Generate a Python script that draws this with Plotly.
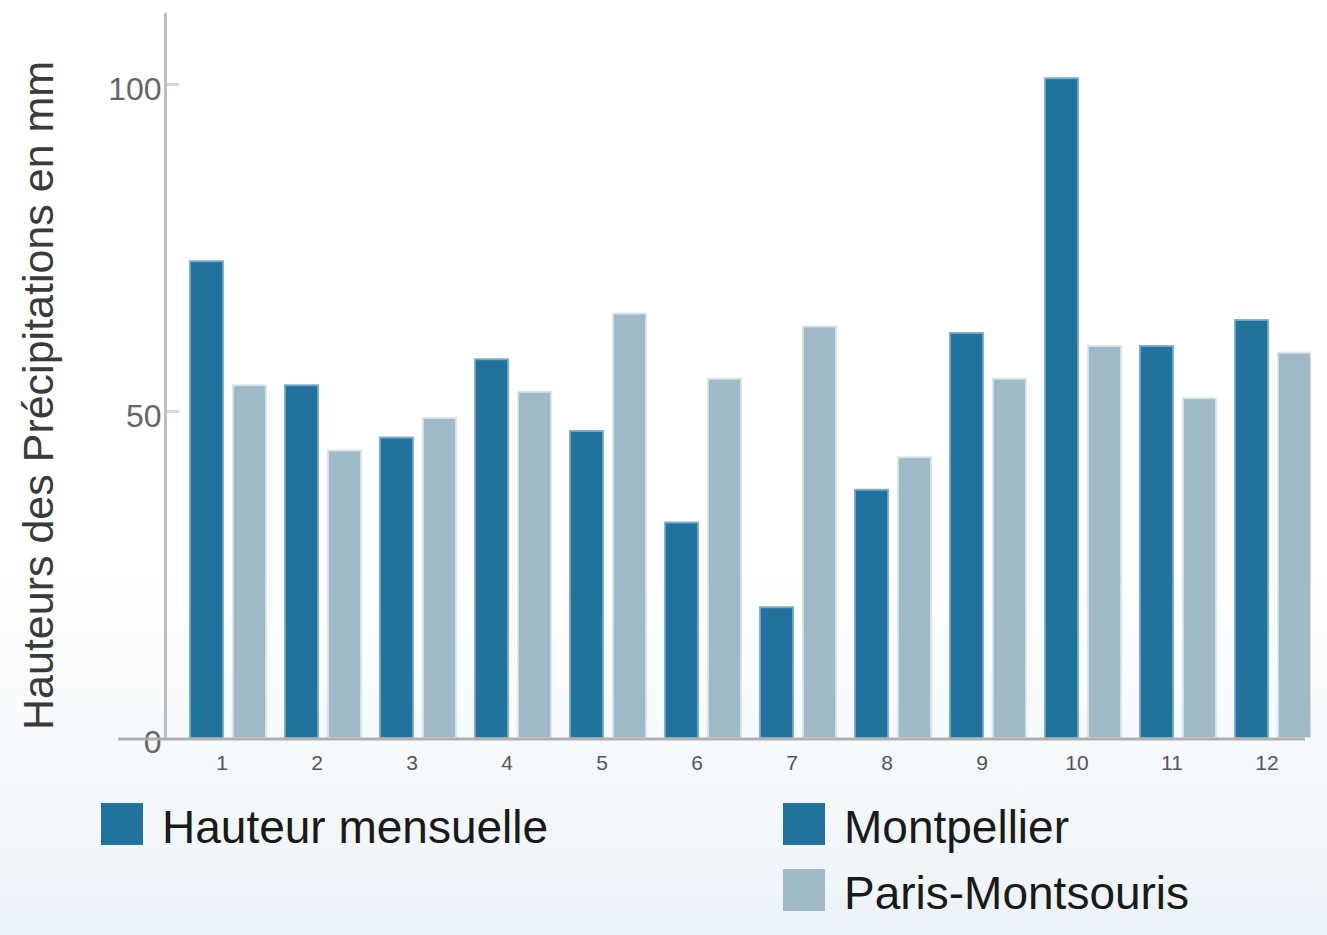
import base64
import plotly.graph_objects as go

# ---- data ----
months = [1, 2, 3, 4, 5, 6, 7, 8, 9, 10, 11, 12]
month_labels = ["1", "2", "3", "4", "5", "6", "7", "8", "9", "10", "11", "12"]
montpellier = [73, 54, 46, 58, 47, 33, 20, 38, 62, 101, 60, 64]
paris = [54, 44, 49, 53, 65, 55, 63, 43, 55, 60, 52, 59]
y_ticks = [0, 50, 100]
y_title = "Hauteurs des Précipitations en mm"
legend_title = "Hauteur mensuelle"
series_names = ["Montpellier", "Paris-Montsouris"]

DARK = "#21739D"
LIGHT = "#A0B9C6"

W, H = 1327, 935
L, R, T, B = 167, 16, 13, 197
PW, PH = W - L - R, H - T - B

fig = go.Figure()
fig.add_trace(go.Bar(x=months, y=montpellier, name=series_names[0],
                     marker=dict(color=DARK, line=dict(color="rgba(120,170,200,0.9)", width=2)),
                     showlegend=False))
fig.add_trace(go.Bar(x=months, y=paris, name=series_names[1],
                     marker=dict(color=LIGHT, line=dict(color="rgba(215,228,235,0.9)", width=2)),
                     showlegend=False))

# gradient background as an svg image
svg = f'''<svg xmlns="http://www.w3.org/2000/svg" width="{W}" height="{H}" preserveAspectRatio="none">
<defs><linearGradient id="g" x1="0" y1="0" x2="0" y2="1">
<stop offset="0" stop-color="#ffffff"/><stop offset="0.62" stop-color="#ffffff"/>
<stop offset="1" stop-color="#ECF3F8"/></linearGradient></defs>
<rect width="{W}" height="{H}" fill="url(#g)"/></svg>'''
src = "data:image/svg+xml;base64," + base64.b64encode(svg.encode()).decode()

def px_x(p):
    return (p - L) / PW

def px_y(p):
    return (H - B - p) / PH

shapes = [
    # x axis line extended to the left
    dict(type="line", xref="paper", yref="paper", x0=px_x(118), x1=px_x(1305), y0=px_y(739), y1=px_y(739),
         line=dict(color="#B0B0B0", width=3), layer="above"),
]
annotations = [
    dict(text=y_title, xref="paper", yref="paper", x=px_x(38), y=px_y(396), textangle=-90,
         xanchor="center", yanchor="middle", showarrow=False,
         font=dict(family="Liberation Sans, Arial", size=43, color="#3a3a3a")),
]
legend_items = [
    (101, 803, DARK, legend_title),
    (783, 803, DARK, series_names[0]),
    (783, 869, LIGHT, series_names[1]),
]
for x0, y0, col, txt in legend_items:
    shapes.append(dict(type="rect", xref="paper", yref="paper",
                       x0=px_x(x0), x1=px_x(x0 + 42), y0=px_y(y0 + 42), y1=px_y(y0),
                       fillcolor=col, line=dict(width=0)))
    annotations.append(dict(text=txt, xref="paper", yref="paper", x=px_x(x0 + 59), y=px_y(y0 + 24),
                            xanchor="left", yanchor="middle", showarrow=False,
                            font=dict(family="Liberation Sans, Arial", size=46, color="#1a1a1a")))

fig.update_layout(
    width=W, height=H,
    margin=dict(l=L, r=R, t=T, b=B, pad=0),
    paper_bgcolor="white",
    plot_bgcolor="rgba(0,0,0,0)",
    barmode="group",
    bargap=0.095,
    bargroupgap=0.23,
    images=[dict(source=src, xref="paper", yref="paper", x=px_x(0), y=px_y(0),
                 sizex=W / PW, sizey=H / PH, xanchor="left", yanchor="top",
                 sizing="stretch", layer="below")],
    shapes=shapes,
    annotations=annotations,
    font=dict(family="Liberation Sans, Arial"),
    xaxis=dict(range=[0.358, 12.4], tickmode="array", tickvals=months, ticktext=month_labels,
               showgrid=False, zeroline=False, showline=False, ticks="",
               ticklabelshift=-6, ticklabelstandoff=10,
               tickfont=dict(size=21, color="#555555")),
    yaxis=dict(range=[0, 111], tickmode="array", tickvals=y_ticks, showgrid=False, zeroline=False,
               showline=True, linecolor="#BDBDBD", linewidth=3,
               ticks="inside", ticklen=12, tickwidth=3, tickcolor="#D5D5D5",
               ticklabelstandoff=-4, ticklabelshift=4,
               tickfont=dict(size=32, color="#666666")),
)

fig.write_html("out.html", config={"displayModeBar": False},
               post_script="document.body.style.margin='0';document.body.style.overflow='hidden';")
